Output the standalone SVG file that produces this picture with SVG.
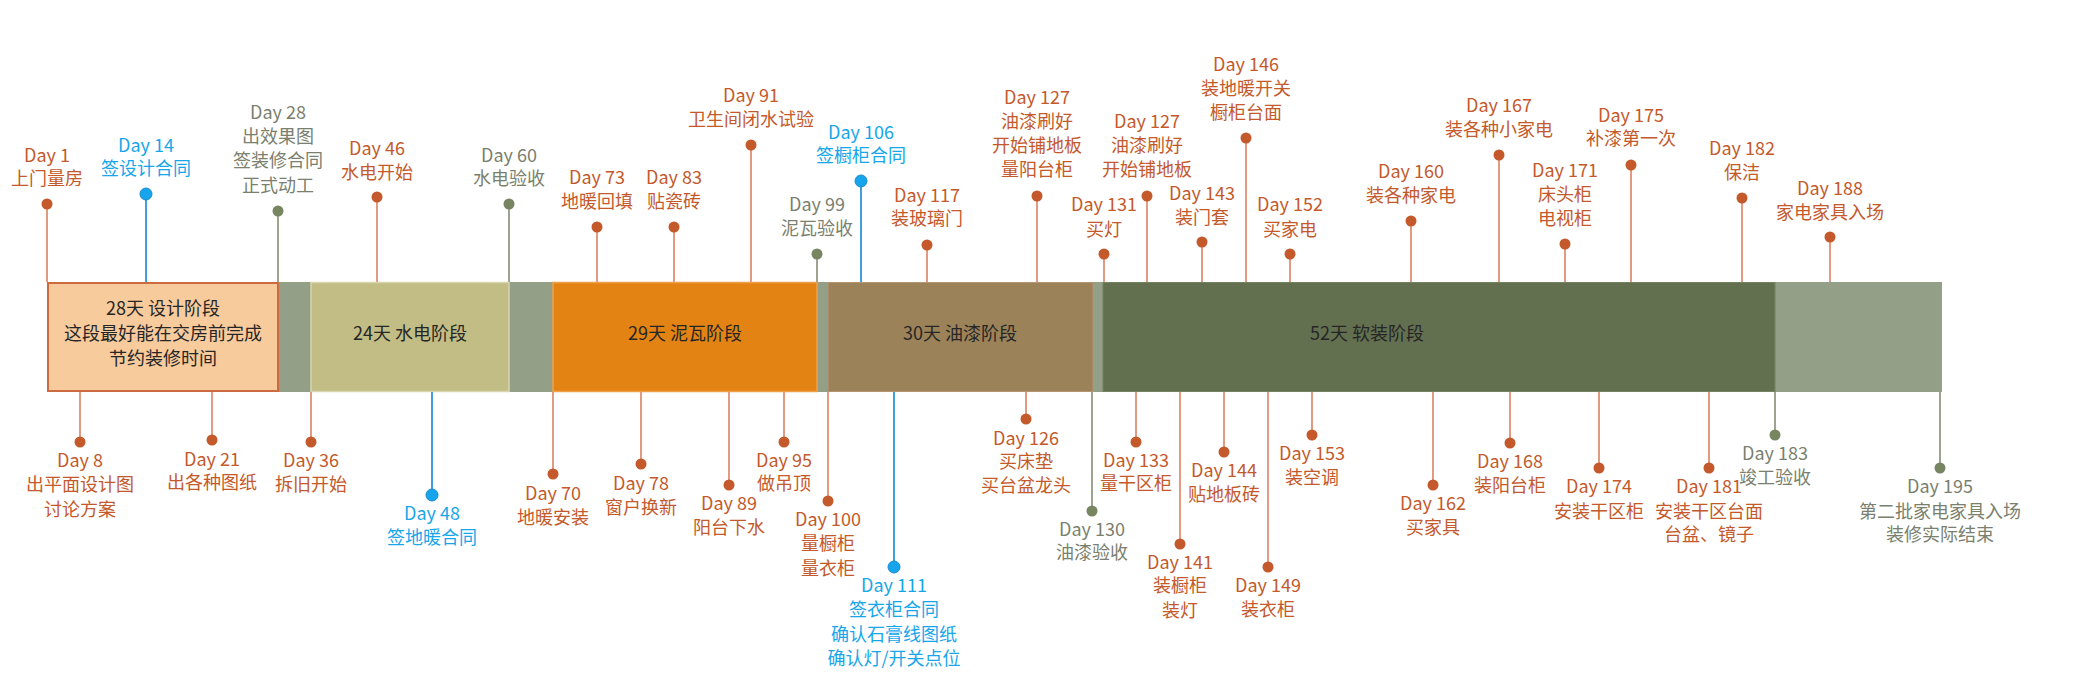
<svg xmlns="http://www.w3.org/2000/svg" width="2074" height="684" viewBox="0 0 2074 684">
<style>
text{font-family:"Noto Sans CJK SC","Noto Sans",sans-serif;font-size:18px;text-anchor:middle;dominant-baseline:central}
.to{fill:#C4592B}.tb{fill:#17A6EA}.tg{fill:#7A7F6E}.tp{fill:#262626}
.lo{stroke:#E29A80;stroke-width:2}.lb{stroke:#3E9FDC;stroke-width:2}.lg{stroke:#9EA391;stroke-width:2}
.do{fill:#C4592B}.db{fill:#16A5EC;stroke:#1A8CCB;stroke-width:1}.dg{fill:#778660}
</style>
<rect width="2074" height="684" fill="#FFFFFF"/>
<g id="bar">
<rect x="47" y="282" width="1895" height="110" fill="#939F86"/>
</g>
<g id="phase-design">
<rect x="48" y="283" width="230" height="108" fill="#F8CB9D" stroke="#CB6B3F" stroke-width="2"/>
<text class="tp"><tspan x="163" y="307">28天 设计阶段</tspan><tspan x="163" y="332">这段最好能在交房前完成</tspan><tspan x="163" y="357">节约装修时间</tspan></text>
</g>
<g id="phase-water">
<rect x="311" y="282.5" width="198" height="109" fill="#C2BD85" stroke="#D8D5B0" stroke-width="1.5"/>
<text class="tp" x="410" y="332">24天 水电阶段</text>
</g>
<g id="phase-tile">
<rect x="553" y="282.5" width="264" height="109" fill="#E38314" stroke="#F0A048" stroke-width="1.5"/>
<text class="tp" x="685" y="332">29天 泥瓦阶段</text>
</g>
<g id="phase-paint">
<rect x="828" y="282.5" width="265" height="109" fill="#9C8258" stroke="#B59572" stroke-width="1"/>
<text class="tp" x="960" y="332">30天 油漆阶段</text>
</g>
<g id="phase-soft">
<rect x="1103" y="282.5" width="672" height="109" fill="#637050" stroke="#758262" stroke-width="1"/>
<text class="tp" x="1367" y="332">52天 软装阶段</text>
</g>
<g id="connectors">
<line class="lo" x1="47" y1="204" x2="47" y2="282"/>
<line class="lb" x1="146" y1="194" x2="146" y2="282"/>
<line class="lg" x1="278" y1="211" x2="278" y2="282"/>
<line class="lo" x1="377" y1="197" x2="377" y2="282"/>
<line class="lg" x1="509" y1="204" x2="509" y2="282"/>
<line class="lo" x1="597" y1="227" x2="597" y2="282"/>
<line class="lo" x1="674" y1="227" x2="674" y2="282"/>
<line class="lo" x1="751" y1="145" x2="751" y2="282"/>
<line class="lg" x1="817" y1="254" x2="817" y2="282"/>
<line class="lb" x1="861" y1="181" x2="861" y2="282"/>
<line class="lo" x1="927" y1="245" x2="927" y2="282"/>
<line class="lo" x1="1037" y1="196" x2="1037" y2="282"/>
<line class="lo" x1="1104" y1="254" x2="1104" y2="282"/>
<line class="lo" x1="1147" y1="196" x2="1147" y2="282"/>
<line class="lo" x1="1202" y1="242" x2="1202" y2="282"/>
<line class="lo" x1="1246" y1="138" x2="1246" y2="282"/>
<line class="lo" x1="1290" y1="254" x2="1290" y2="282"/>
<line class="lo" x1="1411" y1="221" x2="1411" y2="282"/>
<line class="lo" x1="1499" y1="155" x2="1499" y2="282"/>
<line class="lo" x1="1565" y1="244" x2="1565" y2="282"/>
<line class="lo" x1="1631" y1="165" x2="1631" y2="282"/>
<line class="lo" x1="1742" y1="198" x2="1742" y2="282"/>
<line class="lo" x1="1830" y1="237" x2="1830" y2="282"/>
<line class="lo" x1="80" y1="392" x2="80" y2="442"/>
<line class="lo" x1="212" y1="392" x2="212" y2="440"/>
<line class="lo" x1="311" y1="392" x2="311" y2="442"/>
<line class="lb" x1="432" y1="392" x2="432" y2="495"/>
<line class="lo" x1="553" y1="392" x2="553" y2="474"/>
<line class="lo" x1="641" y1="392" x2="641" y2="464"/>
<line class="lo" x1="729" y1="392" x2="729" y2="485"/>
<line class="lo" x1="784" y1="392" x2="784" y2="442"/>
<line class="lo" x1="828" y1="392" x2="828" y2="501"/>
<line class="lb" x1="894" y1="392" x2="894" y2="567"/>
<line class="lo" x1="1026" y1="392" x2="1026" y2="419"/>
<line class="lg" x1="1092" y1="392" x2="1092" y2="511"/>
<line class="lo" x1="1136" y1="392" x2="1136" y2="442"/>
<line class="lo" x1="1180" y1="392" x2="1180" y2="544"/>
<line class="lo" x1="1224" y1="392" x2="1224" y2="452"/>
<line class="lo" x1="1268" y1="392" x2="1268" y2="567"/>
<line class="lo" x1="1312" y1="392" x2="1312" y2="435"/>
<line class="lo" x1="1433" y1="392" x2="1433" y2="485"/>
<line class="lo" x1="1510" y1="392" x2="1510" y2="443"/>
<line class="lo" x1="1599" y1="392" x2="1599" y2="468"/>
<line class="lo" x1="1709" y1="392" x2="1709" y2="468"/>
<line class="lg" x1="1775" y1="392" x2="1775" y2="435"/>
<line class="lg" x1="1940" y1="392" x2="1940" y2="468"/>
</g>
<g id="day1"><circle class="do" cx="47" cy="204" r="5.5"/><text class="to"><tspan x="47" y="154">Day 1</tspan><tspan x="47" y="177">上门量房</tspan></text></g>
<g id="day14"><circle class="db" cx="146" cy="194" r="6"/><text class="tb"><tspan x="146" y="144">Day 14</tspan><tspan x="146" y="167">签设计合同</tspan></text></g>
<g id="day28"><circle class="dg" cx="278" cy="211" r="5.5"/><text class="tg"><tspan x="278" y="111">Day 28</tspan><tspan x="278" y="135">出效果图</tspan><tspan x="278" y="159">签装修合同</tspan><tspan x="278" y="184">正式动工</tspan></text></g>
<g id="day46"><circle class="do" cx="377" cy="197" r="5.5"/><text class="to"><tspan x="377" y="147">Day 46</tspan><tspan x="377" y="171">水电开始</tspan></text></g>
<g id="day60"><circle class="dg" cx="509" cy="204" r="5.5"/><text class="tg"><tspan x="509" y="154">Day 60</tspan><tspan x="509" y="177">水电验收</tspan></text></g>
<g id="day73"><circle class="do" cx="597" cy="227" r="5.5"/><text class="to"><tspan x="597" y="176">Day 73</tspan><tspan x="597" y="200">地暖回填</tspan></text></g>
<g id="day83"><circle class="do" cx="674" cy="227" r="5.5"/><text class="to"><tspan x="674" y="176">Day 83</tspan><tspan x="674" y="200">贴瓷砖</tspan></text></g>
<g id="day91"><circle class="do" cx="751" cy="145" r="5.5"/><text class="to"><tspan x="751" y="94">Day 91</tspan><tspan x="751" y="118">卫生间闭水试验</tspan></text></g>
<g id="day99"><circle class="dg" cx="817" cy="254" r="5.5"/><text class="tg"><tspan x="817" y="203">Day 99</tspan><tspan x="817" y="227">泥瓦验收</tspan></text></g>
<g id="day106"><circle class="db" cx="861" cy="181" r="6"/><text class="tb"><tspan x="861" y="131">Day 106</tspan><tspan x="861" y="154">签橱柜合同</tspan></text></g>
<g id="day117"><circle class="do" cx="927" cy="245" r="5.5"/><text class="to"><tspan x="927" y="194">Day 117</tspan><tspan x="927" y="217">装玻璃门</tspan></text></g>
<g id="day127a"><circle class="do" cx="1037" cy="196" r="5.5"/><text class="to"><tspan x="1037" y="96">Day 127</tspan><tspan x="1037" y="120">油漆刷好</tspan><tspan x="1037" y="144">开始铺地板</tspan><tspan x="1037" y="168">量阳台柜</tspan></text></g>
<g id="day131"><circle class="do" cx="1104" cy="254" r="5.5"/><text class="to"><tspan x="1104" y="203">Day 131</tspan><tspan x="1104" y="228">买灯</tspan></text></g>
<g id="day127b"><circle class="do" cx="1147" cy="196" r="5.5"/><text class="to"><tspan x="1147" y="120">Day 127</tspan><tspan x="1147" y="144">油漆刷好</tspan><tspan x="1147" y="168">开始铺地板</tspan></text></g>
<g id="day143"><circle class="do" cx="1202" cy="242" r="5.5"/><text class="to"><tspan x="1202" y="192">Day 143</tspan><tspan x="1202" y="216">装门套</tspan></text></g>
<g id="day146"><circle class="do" cx="1246" cy="138" r="5.5"/><text class="to"><tspan x="1246" y="63">Day 146</tspan><tspan x="1246" y="87">装地暖开关</tspan><tspan x="1246" y="111">橱柜台面</tspan></text></g>
<g id="day152"><circle class="do" cx="1290" cy="254" r="5.5"/><text class="to"><tspan x="1290" y="203">Day 152</tspan><tspan x="1290" y="228">买家电</tspan></text></g>
<g id="day160"><circle class="do" cx="1411" cy="221" r="5.5"/><text class="to"><tspan x="1411" y="170">Day 160</tspan><tspan x="1411" y="194">装各种家电</tspan></text></g>
<g id="day167"><circle class="do" cx="1499" cy="155" r="5.5"/><text class="to"><tspan x="1499" y="104">Day 167</tspan><tspan x="1499" y="128">装各种小家电</tspan></text></g>
<g id="day171"><circle class="do" cx="1565" cy="244" r="5.5"/><text class="to"><tspan x="1565" y="169">Day 171</tspan><tspan x="1565" y="193">床头柜</tspan><tspan x="1565" y="217">电视柜</tspan></text></g>
<g id="day175"><circle class="do" cx="1631" cy="165" r="5.5"/><text class="to"><tspan x="1631" y="114">Day 175</tspan><tspan x="1631" y="137">补漆第一次</tspan></text></g>
<g id="day182"><circle class="do" cx="1742" cy="198" r="5.5"/><text class="to"><tspan x="1742" y="147">Day 182</tspan><tspan x="1742" y="171">保洁</tspan></text></g>
<g id="day188"><circle class="do" cx="1830" cy="237" r="5.5"/><text class="to"><tspan x="1830" y="187">Day 188</tspan><tspan x="1830" y="211">家电家具入场</tspan></text></g>
<g id="day8"><circle class="do" cx="80" cy="442" r="5.5"/><text class="to"><tspan x="80" y="459">Day 8</tspan><tspan x="80" y="483">出平面设计图</tspan><tspan x="80" y="508">讨论方案</tspan></text></g>
<g id="day21"><circle class="do" cx="212" cy="440" r="5.5"/><text class="to"><tspan x="212" y="458">Day 21</tspan><tspan x="212" y="481">出各种图纸</tspan></text></g>
<g id="day36"><circle class="do" cx="311" cy="442" r="5.5"/><text class="to"><tspan x="311" y="459">Day 36</tspan><tspan x="311" y="483">拆旧开始</tspan></text></g>
<g id="day48"><circle class="db" cx="432" cy="495" r="6"/><text class="tb"><tspan x="432" y="512">Day 48</tspan><tspan x="432" y="536">签地暖合同</tspan></text></g>
<g id="day70"><circle class="do" cx="553" cy="474" r="5.5"/><text class="to"><tspan x="553" y="492">Day 70</tspan><tspan x="553" y="516">地暖安装</tspan></text></g>
<g id="day78"><circle class="do" cx="641" cy="464" r="5.5"/><text class="to"><tspan x="641" y="482">Day 78</tspan><tspan x="641" y="506">窗户换新</tspan></text></g>
<g id="day89"><circle class="do" cx="729" cy="485" r="5.5"/><text class="to"><tspan x="729" y="502">Day 89</tspan><tspan x="729" y="526">阳台下水</tspan></text></g>
<g id="day95"><circle class="do" cx="784" cy="442" r="5.5"/><text class="to"><tspan x="784" y="459">Day 95</tspan><tspan x="784" y="482">做吊顶</tspan></text></g>
<g id="day100"><circle class="do" cx="828" cy="501" r="5.5"/><text class="to"><tspan x="828" y="518">Day 100</tspan><tspan x="828" y="542">量橱柜</tspan><tspan x="828" y="567">量衣柜</tspan></text></g>
<g id="day111"><circle class="db" cx="894" cy="567" r="6"/><text class="tb"><tspan x="894" y="584">Day 111</tspan><tspan x="894" y="608">签衣柜合同</tspan><tspan x="894" y="633">确认石膏线图纸</tspan><tspan x="894" y="657">确认灯/开关点位</tspan></text></g>
<g id="day126"><circle class="do" cx="1026" cy="419" r="5.5"/><text class="to"><tspan x="1026" y="437">Day 126</tspan><tspan x="1026" y="460">买床垫</tspan><tspan x="1026" y="484">买台盆龙头</tspan></text></g>
<g id="day130"><circle class="dg" cx="1092" cy="511" r="5.5"/><text class="tg"><tspan x="1092" y="528">Day 130</tspan><tspan x="1092" y="551">油漆验收</tspan></text></g>
<g id="day133"><circle class="do" cx="1136" cy="442" r="5.5"/><text class="to"><tspan x="1136" y="459">Day 133</tspan><tspan x="1136" y="482">量干区柜</tspan></text></g>
<g id="day141"><circle class="do" cx="1180" cy="544" r="5.5"/><text class="to"><tspan x="1180" y="561">Day 141</tspan><tspan x="1180" y="584">装橱柜</tspan><tspan x="1180" y="609">装灯</tspan></text></g>
<g id="day144"><circle class="do" cx="1224" cy="452" r="5.5"/><text class="to"><tspan x="1224" y="469">Day 144</tspan><tspan x="1224" y="493">贴地板砖</tspan></text></g>
<g id="day149"><circle class="do" cx="1268" cy="567" r="5.5"/><text class="to"><tspan x="1268" y="584">Day 149</tspan><tspan x="1268" y="608">装衣柜</tspan></text></g>
<g id="day153"><circle class="do" cx="1312" cy="435" r="5.5"/><text class="to"><tspan x="1312" y="452">Day 153</tspan><tspan x="1312" y="476">装空调</tspan></text></g>
<g id="day162"><circle class="do" cx="1433" cy="485" r="5.5"/><text class="to"><tspan x="1433" y="502">Day 162</tspan><tspan x="1433" y="526">买家具</tspan></text></g>
<g id="day168"><circle class="do" cx="1510" cy="443" r="5.5"/><text class="to"><tspan x="1510" y="460">Day 168</tspan><tspan x="1510" y="484">装阳台柜</tspan></text></g>
<g id="day174"><circle class="do" cx="1599" cy="468" r="5.5"/><text class="to"><tspan x="1599" y="485">Day 174</tspan><tspan x="1599" y="510">安装干区柜</tspan></text></g>
<g id="day181"><circle class="do" cx="1709" cy="468" r="5.5"/><text class="to"><tspan x="1709" y="485">Day 181</tspan><tspan x="1709" y="510">安装干区台面</tspan><tspan x="1709" y="533">台盆、镜子</tspan></text></g>
<g id="day183"><circle class="dg" cx="1775" cy="435" r="5.5"/><text class="tg"><tspan x="1775" y="452">Day 183</tspan><tspan x="1775" y="476">竣工验收</tspan></text></g>
<g id="day195"><circle class="dg" cx="1940" cy="468" r="5.5"/><text class="tg"><tspan x="1940" y="485">Day 195</tspan><tspan x="1940" y="510">第二批家电家具入场</tspan><tspan x="1940" y="533">装修实际结束</tspan></text></g>
</svg>
